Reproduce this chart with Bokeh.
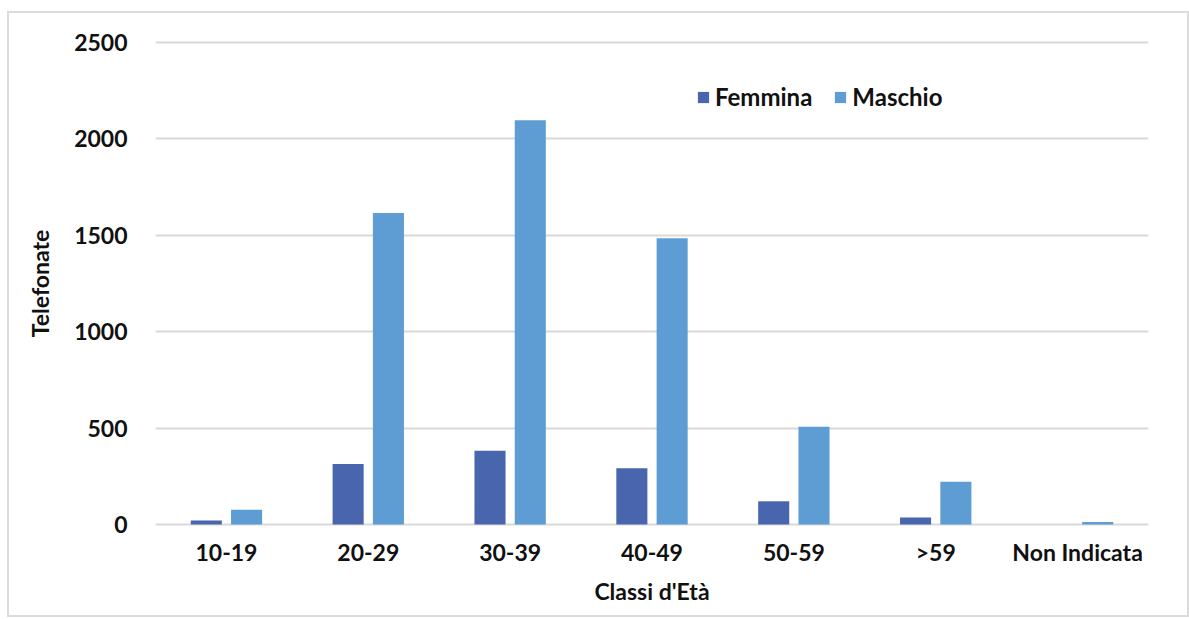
from bokeh.plotting import figure
from bokeh.models import Range1d, FactorRange, Legend, LegendItem, SingleIntervalTicker
from bokeh.transform import dodge
from bokeh.embed import file_html
from bokeh.resources import INLINE

categories = ["10-19", "20-29", "30-39", "40-49", "50-59", ">59", "Non Indicata"]
femmina = [20, 314, 382, 292, 120, 36, 0]
maschio = [76, 1616, 2097, 1485, 507, 221, 12]
series_names = ["Femmina", "Maschio"]
colors = ["#4865AD", "#5E9DD3"]

FONT = "Lato"

p = figure(x_range=FactorRange(*categories, range_padding=0),
           y_range=Range1d(-52.3, 2552.3),
           width=1182, height=606,
           output_backend="svg", toolbar_location=None,
           min_border_left=146, min_border_right=43,
           min_border_top=19, min_border_bottom=85)
p.styles = {"border": "2px solid #dcdcdc", "margin-left": "7px", "margin-top": "11px"}
p.outline_line_color = None
p.background_fill_color = "white"

src = dict(cat=categories, f=femmina, m=maschio)
r1 = p.vbar(x=dodge("cat", -0.142, range=p.x_range), top="f", bottom=0, width=0.219,
            source=src, fill_color=colors[0], line_color=None)
r2 = p.vbar(x=dodge("cat", 0.142, range=p.x_range), top="m", bottom=0, width=0.219,
            source=src, fill_color=colors[1], line_color=None)

p.yaxis.ticker = SingleIntervalTicker(interval=500)
p.ygrid.ticker = SingleIntervalTicker(interval=500)
p.xgrid.grid_line_color = None
p.ygrid.grid_line_color = "#d9d9d9"
p.ygrid.grid_line_width = 2

for ax in (p.xaxis, p.yaxis):
    ax.axis_line_color = None
    ax.major_tick_line_color = None
    ax.minor_tick_line_color = None
    ax.major_tick_in = 0
    ax.major_tick_out = 0
    ax.major_label_text_font = FONT
    ax.major_label_text_font_style = "bold"
    ax.major_label_text_font_size = "23px"
    ax.major_label_text_color = "#111111"
    ax.axis_label_text_font = FONT
    ax.axis_label_text_font_style = "bold"
    ax.axis_label_text_font_size = "23px"
    ax.axis_label_text_color = "#111111"

p.yaxis.axis_label = "Telefonate"
p.xaxis.axis_label = "Classi d'Età"
p.yaxis.major_label_standoff = 24
p.yaxis.axis_label_standoff = 17
p.xaxis.major_label_standoff = 3
p.xaxis.axis_label_standoff = 8

legend = Legend(items=[LegendItem(label=series_names[0], renderers=[r1]),
                       LegendItem(label=series_names[1], renderers=[r2])],
                orientation="horizontal", location=(541, 423),
                glyph_width=14, glyph_height=14, label_standoff=5, spacing=21,
                padding=0, margin=0, border_line_alpha=0, background_fill_alpha=0,
                label_text_font=FONT, label_text_font_style="bold",
                label_text_font_size="24px", label_text_color="#111111")
p.add_layout(legend)

open("out.html", "w").write(file_html(p, INLINE))
